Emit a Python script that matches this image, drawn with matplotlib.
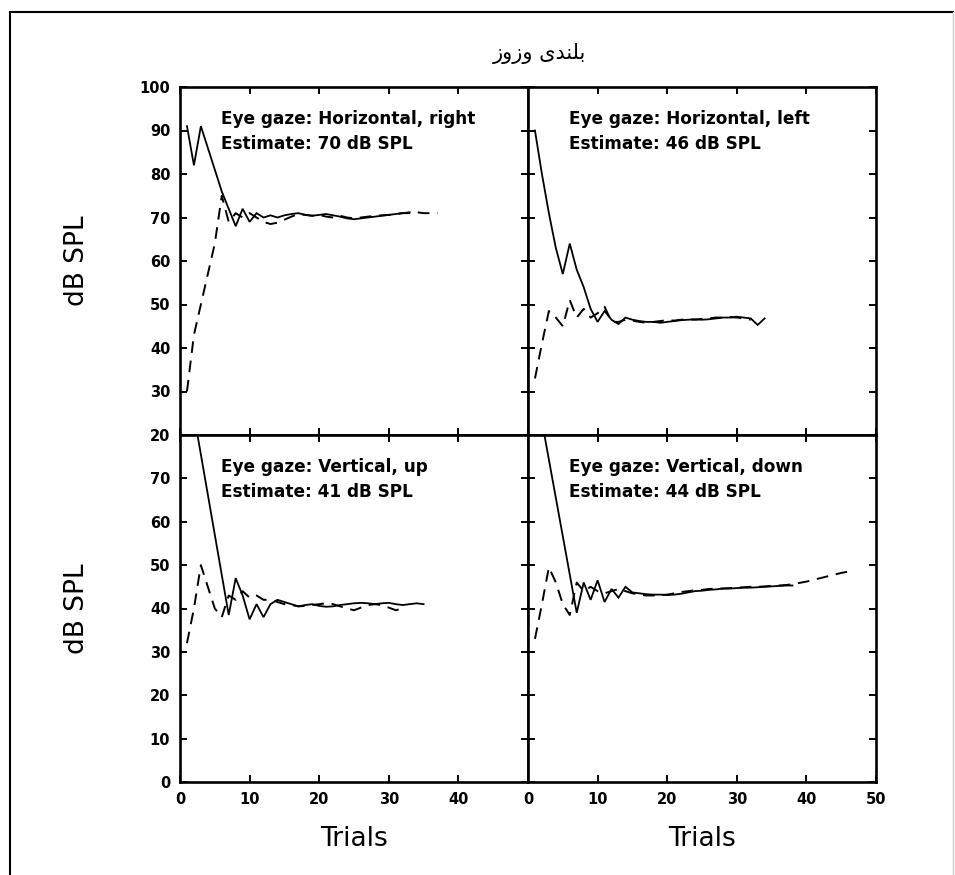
import matplotlib
matplotlib.use("Agg")
import matplotlib.pyplot as plt
from matplotlib.lines import Line2D

# ---------------- data ----------------
title_text = "\uFEAF\uFEED\uFEAF\uFEED \uFBFC\uFEAA\uFEE8\uFEE0\uFE91"  # بلندی وزوز (visual order)

panel_labels = [
    "Eye gaze: Horizontal, right\nEstimate: 70 dB SPL",
    "Eye gaze: Horizontal, left\nEstimate: 46 dB SPL",
    "Eye gaze: Vertical, up\nEstimate: 41 dB SPL",
    "Eye gaze: Vertical, down\nEstimate: 44 dB SPL",
]

tl_desc_x = list(range(1, 34))
tl_desc_y = [91, 82, 91, 86, 81, 76, 72, 68, 72, 69, 71, 70, 70.5, 70, 70.5, 70.8, 71,
             70.6, 70.4, 70.6, 70.8, 70.5, 70.2, 69.8, 69.6, 69.8, 70, 70.2, 70.4, 70.6,
             70.8, 71, 71.2]
tl_asc_x = list(range(1, 38))
tl_asc_y = [30, 43, 50, 57, 64, 75, 69, 71, 70, 71, 70, 69, 68.5, 68.8, 69.5, 70.2, 70.8,
            70.6, 70.4, 70.6, 70.2, 70, 70.4, 70, 69.8, 70, 70.2, 70.4, 70.5, 70.6, 70.8,
            71, 71, 71.2, 71, 71, 71]

tr_desc_x = list(range(1, 35))
tr_desc_y = [90, 80, 71, 63, 57, 64, 58, 54, 49, 46, 48.5, 46.5, 45.5, 47, 46.5, 46.2, 46,
             46, 45.8, 46, 46.2, 46.4, 46.5, 46.6, 46.5, 46.6, 46.8, 47, 47, 47.2, 47, 46.8,
             45.3, 46.8]
tr_asc_x = list(range(1, 33))
tr_asc_y = [33, 41, 48.5, 47, 45, 51, 47, 49, 47, 48, 49.5, 46, 46, 46.5, 46.3, 46, 45.8,
            46, 46.2, 46.4, 46.3, 46.5, 46.6, 46.5, 46.7, 46.8, 47, 47, 47.1, 47, 46.8, 46.5]

bl_desc_x = [1] + list(range(7, 36))
bl_desc_y = [94, 38.5, 47, 43, 37.5, 41, 38, 41, 42, 41.5, 41, 40.5, 40.8, 41, 40.6, 40.4,
             40.5, 40.8, 41, 41.2, 41.3, 41.2, 41, 41.2, 41.3, 41, 40.8, 41, 41.2, 41]
bl_asc_x = list(range(1, 33))
bl_asc_y = [32, 40, 50, 45, 40, 38, 43, 42, 44, 42.5, 43, 42, 42, 41.5, 41, 40.8, 40.5,
            40.6, 40.8, 41, 41.2, 41, 40.5, 40, 39.6, 40.2, 40.8, 41, 40.8, 40.2, 39.6, 40]

br_desc_x = [1] + list(range(7, 39))
br_desc_y = [92, 39, 46, 42, 46.5, 41.5, 44.5, 42.5, 45, 43.7, 43.5, 43.3, 43.2, 43.2, 43.1,
             43.2, 43.4, 43.7, 44, 44.1, 44.3, 44.4, 44.6, 44.6, 44.7, 44.8, 44.8, 44.9, 45,
             45.1, 45.2, 45.3, 45.3]
br_asc_x = list(range(1, 47))
br_asc_y = [33, 41, 49.5, 46, 41, 38.5, 46, 44, 45, 44, 43.5, 44, 44.5, 44, 43.5, 43.2, 43,
            43, 43.1, 43.2, 43.5, 43.8, 44, 44.2, 44.3, 44.5, 44.6, 44.6, 44.7, 44.8, 44.9,
            45, 45, 45.1, 45.2, 45.3, 45.4, 45.6, 45.9, 46.2, 46.6, 47, 47.4, 47.8, 48.2, 48.5]

top_yticks = [20, 30, 40, 50, 60, 70, 80, 90, 100]
bottom_yticks = [0, 10, 20, 30, 40, 50, 60, 70]
left_xticks = [0, 10, 20, 30, 40]
right_xticks = [0, 10, 20, 30, 40, 50]

# ---------------- figure ----------------
W, H = 955, 875
fig = plt.figure(figsize=(W / 100, H / 100), dpi=100)
fig.patch.set_facecolor("white")

xL, xM, xR = 180 / W, 528 / W, 876 / W
yT, yM, yB = 1 - 87 / H, 1 - 435 / H, 1 - 782 / H
pw, ph = xM - xL, yT - yM

ax_tl = fig.add_axes([xL, yM, pw, ph])
ax_tr = fig.add_axes([xM, yM, pw, ph])
ax_bl = fig.add_axes([xL, yB, pw, yM - yB])
ax_br = fig.add_axes([xM, yB, pw, yM - yB])

panels = [
    (ax_tl, tl_desc_x, tl_desc_y, tl_asc_x, tl_asc_y, (20, 100)),
    (ax_tr, tr_desc_x, tr_desc_y, tr_asc_x, tr_asc_y, (20, 100)),
    (ax_bl, bl_desc_x, bl_desc_y, bl_asc_x, bl_asc_y, (0, 80)),
    (ax_br, br_desc_x, br_desc_y, br_asc_x, br_asc_y, (0, 80)),
]

for i, (ax, dx, dy, ax_x, ax_y, ylim) in enumerate(panels):
    ax.plot(dx, dy, color="black", lw=1.3, solid_joinstyle="miter")
    ax.plot(ax_x, ax_y, color="black", lw=1.4, dashes=(6, 4))
    ax.set_xlim(0, 50)
    ax.set_ylim(*ylim)
    for s in ax.spines.values():
        s.set_linewidth(1.9)
    ax.tick_params(direction="in", length=5, width=1.4, top=True, right=True,
                   labelsize=10.5, pad=7)
    ax.text(0.118, 0.935, panel_labels[i], transform=ax.transAxes, ha="left", va="top",
            fontsize=12.2, fontweight="bold", linespacing=1.5, family="DejaVu Sans")

ax_tl.set_yticks(top_yticks)
ax_tr.set_yticks(top_yticks)
ax_bl.set_yticks(bottom_yticks)
ax_br.set_yticks(bottom_yticks)
for ax in (ax_tl, ax_tr):
    ax.set_xticks(right_xticks)
    ax.set_xticklabels([])
ax_tr.set_yticklabels([])
ax_br.set_yticklabels([])
ax_bl.set_xticks(left_xticks)
ax_br.set_xticks(right_xticks)

for ax in (ax_tl, ax_bl, ax_br):
    for lab in ax.get_xticklabels() + ax.get_yticklabels():
        lab.set_fontweight("bold")
        lab.set_fontsize(10.5)

for ax in (ax_tl, ax_bl):
    ax.set_ylabel("dB SPL", fontsize=19)
    ax.yaxis.set_label_coords((90 - 180) / 348, 0.5)
for ax in (ax_bl, ax_br):
    ax.set_xlabel("Trials", fontsize=19, labelpad=14)

# title
fig.text(540 / W, 1 - 53 / H, title_text, ha="center", va="center", fontsize=15,
         family=["DejaVu Sans"])

# scanned page frame
fig.add_artist(Line2D([10 / W, 953 / W], [1 - 12 / H, 1 - 12 / H], transform=fig.transFigure,
                      color="black", lw=1.5))
fig.add_artist(Line2D([10 / W, 10 / W], [1 - 12 / H, 0], transform=fig.transFigure,
                      color="black", lw=1.5))
fig.add_artist(Line2D([953 / W, 953 / W], [1 - 12 / H, 0], transform=fig.transFigure,
                      color="#cccccc", lw=1.0))

fig.savefig("out.png", dpi=100)
